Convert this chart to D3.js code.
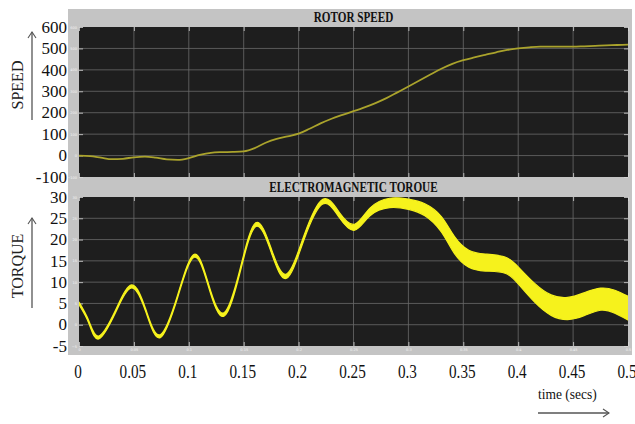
<!DOCTYPE html>
<html>
<head>
<meta charset="utf-8">
<script src="https://cdn.jsdelivr.net/npm/d3@7"></script>
<style>
  html, body { margin: 0; padding: 0; background: #fff; }
  svg { display: block; }
  .serif { font-family: "Liberation Serif", "DejaVu Serif", serif; }
</style>
</head>
<body>
<svg id="chart" width="635" height="424"></svg>
<script>
// ---- data ----
const timeTicks = [0, 0.05, 0.1, 0.15, 0.2, 0.25, 0.3, 0.35, 0.4, 0.45, 0.5];
const timeTickLabels = ["0", "0.05", "0.1", "0.15", "0.2", "0.25", "0.3", "0.35", "0.4", "0.45", "0.5"];
const speedTicks = [-100, 0, 100, 200, 300, 400, 500, 600];
const torqueTicks = [-5, 0, 5, 10, 15, 20, 25, 30];

// rotor speed sampled every 10 ms
const speedTime = [0, 0.01, 0.02, 0.03, 0.04, 0.05, 0.06, 0.07, 0.08, 0.09,
  0.10, 0.11, 0.12, 0.13, 0.14, 0.15, 0.16, 0.17, 0.18, 0.19,
  0.20, 0.21, 0.22, 0.23, 0.24, 0.25, 0.26, 0.27, 0.28, 0.29,
  0.30, 0.31, 0.32, 0.33, 0.34, 0.35, 0.36, 0.37, 0.38, 0.39,
  0.40, 0.41, 0.42, 0.43, 0.44, 0.45, 0.46, 0.47, 0.48, 0.49, 0.50];
const speedValues = [0, -3, -10, -17, -15, -8, -5, -10, -18, -20,
  -12, 3, 13, 16, 17, 20, 35, 60, 78, 90,
  102, 125, 150, 172, 190, 207, 225, 245, 268, 295,
  322, 350, 378, 405, 428, 445, 458, 470, 482, 493,
  500, 505, 508, 508, 508, 508, 510, 512, 514, 516, 518];

// electromagnetic torque: mean value and ripple half-amplitude
const torqueTime = [0, 0.009, 0.018, 0.033, 0.048, 0.061, 0.074, 0.090, 0.105, 0.118,
  0.132, 0.147, 0.161, 0.175, 0.189, 0.205, 0.222, 0.237, 0.251, 0.265,
  0.283, 0.300, 0.315, 0.330, 0.342, 0.355, 0.370, 0.388, 0.400, 0.415,
  0.430, 0.445, 0.460, 0.475, 0.488, 0.500];
const torqueMean = [5.0, 0.6, -3.0, 3.0, 9.0, 3.2, -2.7, 6.8, 16.2, 9.2,
  2.4, 13.0, 23.5, 17.5, 11.4, 20.5, 28.9, 25.8, 22.9, 26.5,
  28.6, 28.3, 27.0, 23.6, 18.7, 15.5, 14.6, 14.0, 11.6, 7.5,
  4.6, 3.8, 4.8, 6.0, 5.4, 3.9];
const torqueRipple = [0.3, 0.3, 0.35, 0.3, 0.35, 0.3, 0.35, 0.3, 0.35, 0.35,
  0.4, 0.4, 0.45, 0.45, 0.5, 0.5, 0.55, 0.6, 0.7, 0.9,
  1.1, 1.2, 1.4, 1.8, 2.0, 2.0, 2.0, 1.9, 2.0, 2.2,
  2.4, 2.6, 2.7, 2.6, 2.7, 2.8];

// ---- layout ----
const svg = d3.select("#chart");
const panel = { x0: 68, y0: 9, x1: 632, y1: 355 };
const plotX = [79, 628];
const boxTop = { y0: 27, y1: 177 };
const boxBot = { y0: 197, y1: 346 };

const x = d3.scaleLinear().domain([0, 0.5]).range(plotX);
const ySpeed = d3.scaleLinear().domain([-100, 600]).range([boxTop.y1, boxTop.y0]);
const yTorque = d3.scaleLinear().domain([-5, 30]).range([boxBot.y1, boxBot.y0]);

// gray figure background
svg.append("rect")
  .attr("x", panel.x0).attr("y", panel.y0)
  .attr("width", panel.x1 - panel.x0).attr("height", panel.y1 - panel.y0)
  .attr("fill", "#c4c4c4");

function drawAxes(y, box, ticks, id, timeLabels) {
  const g = svg.append("g");
  g.append("rect")
    .attr("x", plotX[0]).attr("y", box.y0)
    .attr("width", plotX[1] - plotX[0]).attr("height", box.y1 - box.y0)
    .attr("fill", "#1e1e1e");

  // grid
  g.append("g").selectAll("line").data(timeTicks.slice(1, -1)).join("line")
    .attr("x1", d => x(d)).attr("x2", d => x(d))
    .attr("y1", box.y0).attr("y2", box.y1)
    .attr("stroke", "#6a6a6a").attr("stroke-width", 0.8);
  g.append("g").selectAll("line").data(ticks.slice(1, -1)).join("line")
    .attr("x1", plotX[0]).attr("x2", plotX[1])
    .attr("y1", d => y(d)).attr("y2", d => y(d))
    .attr("stroke", "#6a6a6a").attr("stroke-width", 0.8);

  // inward tick marks on all four sides, tiny labels in the gray margin
  const tickCol = "#d8d8d8";
  const ax = [
    d3.axisBottom(x).tickValues(timeTicks).tickSizeInner(-4).tickSizeOuter(0).tickPadding(3)
      .tickFormat(timeLabels ? d3.format("") : ""),
    d3.axisTop(x).tickValues(timeTicks).tickSizeInner(-4).tickSizeOuter(0).tickFormat(""),
    d3.axisLeft(y).tickValues(ticks).tickSizeInner(-4).tickSizeOuter(0).tickPadding(2).tickFormat(d3.format("")),
    d3.axisRight(y).tickValues(ticks).tickSizeInner(-4).tickSizeOuter(0).tickFormat("")
  ];
  const pos = [
    `translate(0,${box.y1})`, `translate(0,${box.y0})`,
    `translate(${plotX[0]},0)`, `translate(${plotX[1]},0)`
  ];
  ax.forEach((a, i) => {
    const ag = g.append("g").attr("transform", pos[i]).call(a);
    ag.select(".domain").remove();
    ag.selectAll(".tick line").attr("stroke", tickCol).attr("stroke-width", 0.8);
    ag.selectAll(".tick text")
      .attr("fill", "#f4f4f4").attr("font-size", 3.5)
      .attr("font-family", "DejaVu Sans, sans-serif");
  });

  g.append("defs").append("clipPath").attr("id", id)
    .append("rect")
    .attr("x", plotX[0]).attr("y", box.y0)
    .attr("width", plotX[1] - plotX[0]).attr("height", box.y1 - box.y0);
  return g;
}

const gTop = drawAxes(ySpeed, boxTop, speedTicks, "clipTop", false);
const gBot = drawAxes(yTorque, boxBot, torqueTicks, "clipBot", true);

// rotor speed trace
const speedLine = d3.line()
  .x((d, i) => x(speedTime[i]))
  .y(d => ySpeed(d))
  .curve(d3.curveMonotoneX);
gTop.append("path")
  .attr("clip-path", "url(#clipTop)")
  .attr("d", speedLine(speedValues))
  .attr("fill", "none")
  .attr("stroke", "#aaa32c")
  .attr("stroke-width", 1.8);

// torque trace drawn as a ripple band
const torqueBand = d3.area()
  .x((d, i) => x(torqueTime[i]))
  .y0((d, i) => yTorque(d - torqueRipple[i]))
  .y1((d, i) => yTorque(d + torqueRipple[i]))
  .curve(d3.curveNatural);
gBot.append("path")
  .attr("clip-path", "url(#clipBot)")
  .attr("d", torqueBand(torqueMean))
  .attr("fill", "#f6f21c")
  .attr("stroke", "#f6f21c")
  .attr("stroke-width", 1.2)
  .attr("stroke-linejoin", "round");

// panel titles
const midX = (plotX[0] + plotX[1]) / 2;
[["ROTOR SPEED", 22], ["ELECTROMAGNETIC TOROUE", 192]].forEach(([t, yy]) => {
  svg.append("text").attr("class", "serif")
    .attr("transform", `translate(${midX},${yy}) scale(0.8,1)`)
    .attr("text-anchor", "middle")
    .attr("font-size", 14).attr("font-weight", "bold")
    .attr("fill", "#111")
    .text(t);
});

// large outer tick labels
function yLabels(y, ticks) {
  svg.append("g").selectAll("text").data(ticks).join("text")
    .attr("class", "serif")
    .attr("x", 67).attr("y", d => y(d))
    .attr("dy", "0.34em")
    .attr("text-anchor", "end")
    .attr("font-size", 17)
    .attr("fill", "#111")
    .text(d => d);
}
yLabels(ySpeed, speedTicks);
yLabels(yTorque, torqueTicks);

svg.append("g").selectAll("text").data(timeTicks).join("text")
  .attr("class", "serif")
  .attr("transform", d => `translate(${x(d) - 1},378) scale(0.8,1)`)
  .attr("text-anchor", "middle")
  .attr("font-size", 19)
  .attr("fill", "#111")
  .text((d, i) => timeTickLabels[i]);

// axis names with arrows
const arrowCol = "#555";
function arrowUp(xx, y0, y1) {
  svg.append("line").attr("x1", xx).attr("x2", xx).attr("y1", y0).attr("y2", y1)
    .attr("stroke", arrowCol).attr("stroke-width", 1.3);
  svg.append("path")
    .attr("d", `M${xx - 4},${y1 + 6} L${xx},${y1} L${xx + 4},${y1 + 6}`)
    .attr("fill", "none").attr("stroke", arrowCol).attr("stroke-width", 1.1);
}
arrowUp(32, 120, 32);
arrowUp(32, 308, 218);

[["SPEED", 85], ["TORQUE", 266]].forEach(([t, yy]) => {
  svg.append("text").attr("class", "serif")
    .attr("transform", `translate(23,${yy}) rotate(-90)`)
    .attr("text-anchor", "middle")
    .attr("font-size", 16)
    .attr("fill", "#222")
    .text(t);
});

svg.append("text").attr("class", "serif")
  .attr("x", 538).attr("y", 399)
  .attr("font-size", 15)
  .attr("fill", "#111")
  .attr("transform", "translate(538,0) scale(0.9,1) translate(-538,0)")
  .text("time (secs)");
svg.append("line").attr("x1", 538).attr("x2", 609).attr("y1", 413).attr("y2", 413)
  .attr("stroke", arrowCol).attr("stroke-width", 1.3);
svg.append("path")
  .attr("d", "M603,409 L609,413 L603,417")
  .attr("fill", "none").attr("stroke", arrowCol).attr("stroke-width", 1.1);
</script>
</body>
</html>
